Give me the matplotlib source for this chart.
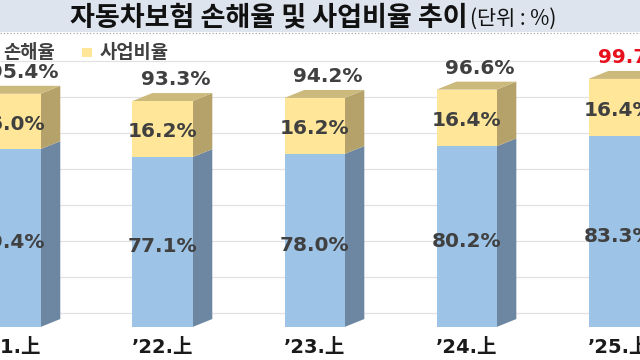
import matplotlib
matplotlib.use("Agg")
import matplotlib.pyplot as plt
from matplotlib.patches import Polygon, Rectangle
from matplotlib.lines import Line2D

# 데이터
categories = ["’21.上", "’22.上", "’23.上", "’24.上", "’25.上"]
loss_ratio = [79.4, 77.1, 78.0, 80.2, 83.3]
expense_ratio = [16.0, 16.2, 16.2, 16.4, 16.4]
total_ratio = [95.4, 93.3, 94.2, 96.6, 99.7]
grid_values = [30, 40, 50, 60, 70, 80, 90, 100]

BASE = 28
W = 0.395          # 막대 앞면 폭
DX, DY = 0.13, 2.3  # 입체 깊이

BLUE, BLUE_SIDE = "#9dc3e6", "#6d87a3"
YEL, YEL_SIDE, YEL_TOP = "#ffe699", "#b5a26a", "#ccb97c"
TXT = "#404040"

plt.rcParams["font.family"] = ["Noto Sans CJK KR", "DejaVu Sans"]

fig = plt.figure(figsize=(6.4, 3.6), dpi=100)

# 뒷벽 눈금선
ax_bg = fig.add_axes([0, 0, 1, 1])
ax_bg.set_xlim(0, 1)
ax_bg.set_ylim(16.94, 116.94)
ax_bg.hlines(grid_values, 0, 1, color="#e2e2e2", lw=0.9)
ax_bg.axis("off")

ax = fig.add_axes([0, 0, 1, 1])
ax.patch.set_alpha(0)
ax.set_xlim(-0.069, 4.141)
ax.set_ylim(18.46, 122.5)
ax.axis("off")


def box(x, bottom, top, front, side, topc=None):
    l, r = x - W / 2, x + W / 2
    ax.add_patch(Rectangle((l, bottom), W, top - bottom, color=front, lw=0, zorder=3))
    ax.add_patch(Polygon([(r, bottom), (r + DX, bottom + DY), (r + DX, top + DY), (r, top)],
                         color=side, lw=0, zorder=2))
    if topc:
        ax.add_patch(Polygon([(l, top), (r, top), (r + DX, top + DY), (l + DX, top + DY)],
                             color=topc, lw=0, zorder=2))


for i in range(len(categories)):
    lo, ex, tot = loss_ratio[i], expense_ratio[i], total_ratio[i]
    box(i, BASE, lo, BLUE, BLUE_SIDE)
    box(i, lo, lo + ex, YEL, YEL_SIDE, YEL_TOP)

    val_font = dict(family="DejaVu Sans", fontweight="bold", fontsize=14.5, ha="center", va="center", zorder=5)
    ax.text(i, (BASE + lo) / 2 - 1.4, f"{lo:.1f}%", color=TXT, **val_font)
    ax.text(i, lo + ex / 2 - 0.8, f"{ex:.1f}%", color=TXT, **val_font)
    ax.text(i + 0.09, lo + ex + 6.2, f"{tot:.1f}%",
            color="#e8101c" if i == len(categories) - 1 else TXT, **val_font)

    ax.text(i, 0.036, categories[i], transform=ax.get_xaxis_transform(),
            family=["DejaVu Sans", "Noto Sans CJK KR"], fontweight="bold",
            fontsize=14, color="#1a1a1a", ha="center", va="center")

# 범례
ax.text(55 / 640, 1 - 52 / 360, "손해율", transform=fig.transFigure, fontsize=13.5,
        fontweight="bold", color=TXT, ha="right", va="center")
fig.add_artist(Rectangle((82 / 640, 1 - 57 / 360), 10 / 640, 9 / 360,
                         transform=fig.transFigure, color=YEL, lw=0))
ax.text(100 / 640, 1 - 52 / 360, "사업비율", transform=fig.transFigure, fontsize=13.5,
        fontweight="bold", color=TXT, ha="left", va="center")

# 제목 영역
fig.add_artist(Rectangle((0, 1 - 32 / 360), 1, 32 / 360, transform=fig.transFigure,
                         color="#dde4ee", lw=0))
fig.add_artist(Line2D([0, 1], [1 - 33 / 360] * 2, transform=fig.transFigure,
                      ls=":", color="#a8a8a8", lw=0.9))
fig.text(468 / 640, 1 - 25 / 360, "자동차보험 손해율 및 사업비율 추이", fontsize=19.5,
         fontweight="bold", color="#111111", ha="right", va="baseline")
fig.text(470 / 640, 1 - 25 / 360, "(단위 : %)", fontsize=15,
         color="#111111", ha="left", va="baseline")

fig.savefig("out.png", dpi=100)
